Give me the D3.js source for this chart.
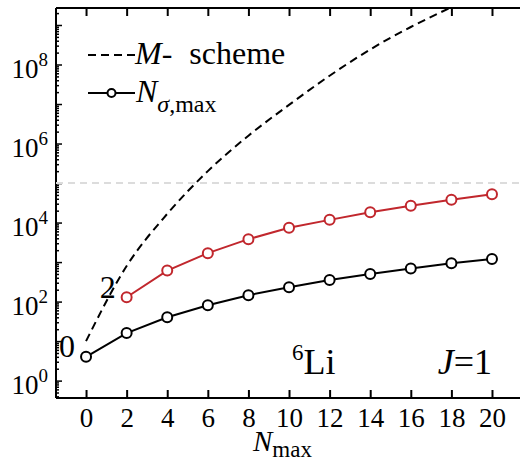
<!DOCTYPE html>
<html>
<head>
<meta charset="utf-8">
<script src="https://cdn.jsdelivr.net/npm/d3@7"></script>
<style>
  body { margin: 0; background: #fff; }
</style>
</head>
<body>
<svg id="chart" width="520" height="463"></svg>
<script>
// values
const nmax = [0, 2, 4, 6, 8, 10, 12, 14, 16, 18, 20];
const mScheme = [10, 794, 1.66e4, 2.0e5, 1.58e6, 9.5e6, 5.2e7, 2.4e8, 8.9e8, 2.8e9, 7.9e9];
const nSigmaBlack = [4, 16, 40, 81, 145, 232, 354, 502, 684, 935, 1200];
const nmaxRed = [2, 4, 6, 8, 10, 12, 14, 16, 18, 20];
const nSigmaRed = [129, 610, 1680, 3800, 7400, 11700, 18300, 26500, 37600, 52000];
const xTicks = [0, 2, 4, 6, 8, 10, 12, 14, 16, 18, 20];
const yLabelExps = [0, 2, 4, 6, 8];
const cutLine = 1e5;

const serif = "'Liberation Serif', 'Times New Roman', 'DejaVu Serif', serif";

let svg = d3.select("#chart")
    .style("font-family", serif);

let margin = {top: 8, right: 0, bottom: 65, left: 56};
let width = 520 - margin.left - margin.right;
let height = 463 - margin.top - margin.bottom;

let g = svg.append("g")
    .attr("transform", `translate(${margin.left}, ${margin.top})`);

let x = d3.scaleLinear()
    .domain([-1.48, 21.38])
    .range([0, width]);

let y = d3.scaleLog()
    .domain([Math.pow(10, -0.44), Math.pow(10, 9.43)])
    .range([height, 0]);

g.append("defs").append("clipPath")
    .attr("id", "clip")
    .append("rect")
    .attr("width", width)
    .attr("height", height);

// y ticks: majors every decade, minors 2..9
let yTicks = [];
for (let e = -1; e <= 9; e++) {
    for (let m = 1; m <= 9; m++) {
        let v = m * Math.pow(10, e);
        if (v >= y.domain()[0] && v <= y.domain()[1]) yTicks.push(v);
    }
}

let yAxis = g.append("g")
    .call(d3.axisLeft(y).tickValues(yTicks).tickSizeInner(-3).tickSizeOuter(0).tickFormat(""));
yAxis.select(".domain").remove();
yAxis.selectAll(".tick line")
    .attr("x2", d => Math.abs(Math.log10(d) - Math.round(Math.log10(d))) < 1e-9 ? 6 : 3)
    .attr("stroke-width", 1.5);

yLabelExps.forEach(function(e) {
    let t = g.append("text")
        .attr("x", -8)
        .attr("y", y(Math.pow(10, e)) + 13)
        .attr("text-anchor", "end")
        .style("font-family", serif)
        .style("font-size", "27px");
    t.append("tspan").text("10");
    t.append("tspan").attr("dy", -12).style("font-size", "19px").text(e);
});

// x ticks, bottom and top, pointing inward
let xAxisBottom = g.append("g")
    .attr("transform", `translate(0, ${height})`)
    .call(d3.axisBottom(x).tickValues(xTicks).tickSizeInner(-8).tickSizeOuter(0).tickPadding(10));
xAxisBottom.attr("font-family", null);
xAxisBottom.select(".domain").remove();
xAxisBottom.selectAll(".tick line").attr("stroke-width", 2);
xAxisBottom.selectAll(".tick text")
    .style("font-family", serif)
    .style("font-size", "27px")
    .attr("dy", "0.71em");

let xAxisTop = g.append("g")
    .call(d3.axisTop(x).tickValues(xTicks).tickSizeInner(-8).tickSizeOuter(0).tickFormat(""));
xAxisTop.select(".domain").remove();
xAxisTop.selectAll(".tick line").attr("stroke-width", 2);

// frame
g.append("line").attr("x1", 0).attr("x2", 0).attr("y1", 0).attr("y2", height)
    .attr("stroke", "#000").attr("stroke-width", 2);
g.append("line").attr("x1", 0).attr("x2", width).attr("y1", height).attr("y2", height)
    .attr("stroke", "#000").attr("stroke-width", 2);
g.append("line").attr("x1", 0).attr("x2", width).attr("y1", 0).attr("y2", 0)
    .attr("stroke", "#000").attr("stroke-width", 2);

// axis title
let xt = g.append("text")
    .attr("x", 197)
    .attr("y", 443)
    .style("font-size", "29px");
xt.append("tspan").style("font-style", "italic").text("N");
xt.append("tspan").attr("dy", 6).style("font-size", "23px").text("max");

let plot = g.append("g").attr("clip-path", "url(#clip)");

// horizontal reference line
plot.append("line")
    .attr("x1", 0).attr("x2", width)
    .attr("y1", y(cutLine)).attr("y2", y(cutLine))
    .attr("stroke", "#dcdcdc")
    .attr("stroke-width", 2)
    .attr("stroke-dasharray", "7,5");

let line = d3.line()
    .x(d => x(d[0]))
    .y(d => y(d[1]));

plot.append("path")
    .datum(d3.zip(nmax, mScheme))
    .attr("d", line.curve(d3.curveMonotoneX))
    .attr("fill", "none")
    .attr("stroke", "#000")
    .attr("stroke-width", 2)
    .attr("stroke-dasharray", "8,5");

line.curve(d3.curveLinear);

let series = [
    {xs: nmax, ys: nSigmaBlack, color: "#000"},
    {xs: nmaxRed, ys: nSigmaRed, color: "#c1272d"}
];

series.forEach(function(s) {
    let pts = d3.zip(s.xs, s.ys);
    plot.append("path")
        .datum(pts)
        .attr("d", line)
        .attr("fill", "none")
        .attr("stroke", s.color)
        .attr("stroke-width", 2);
    plot.selectAll(null)
        .data(pts)
        .join("circle")
        .attr("cx", d => x(d[0]))
        .attr("cy", d => y(d[1]))
        .attr("r", 5)
        .attr("fill", "#fff")
        .attr("stroke", s.color)
        .attr("stroke-width", 2);
});

// point annotations
g.append("text")
    .attr("x", x(0) - 11).attr("y", y(nSigmaBlack[0]))
    .attr("text-anchor", "end")
    .style("font-size", "32px")
    .text("0");
g.append("text")
    .attr("x", x(2) - 11).attr("y", y(nSigmaRed[0]) + 1)
    .attr("text-anchor", "end")
    .style("font-size", "32px")
    .text("2");

// nucleus and J labels
let li = g.append("text")
    .attr("x", 236).attr("y", 366)
    .style("font-size", "36px");
li.append("tspan").attr("dy", -14).style("font-size", "23px").text("6");
li.append("tspan").attr("dy", 14).text("Li");

let jt = g.append("text")
    .attr("x", 436).attr("y", 366)
    .attr("text-anchor", "end")
    .style("font-size", "36px");
jt.append("tspan").style("font-style", "italic").text("J");
jt.append("tspan").text("=1");

// legend
g.append("line")
    .attr("x1", 32).attr("x2", 79).attr("y1", 47).attr("y2", 47)
    .attr("stroke", "#000").attr("stroke-width", 2)
    .attr("stroke-dasharray", "8,5");
let l1 = g.append("text").attr("x", 79).attr("y", 56).style("font-size", "32px");
l1.append("tspan").style("font-style", "italic").text("M");
l1.append("tspan").text("-");
l1.append("tspan").attr("dx", 17).text("scheme");

g.append("line")
    .attr("x1", 32).attr("x2", 79).attr("y1", 85).attr("y2", 85)
    .attr("stroke", "#000").attr("stroke-width", 2);
g.append("circle")
    .attr("cx", 55.5).attr("cy", 85).attr("r", 4)
    .attr("fill", "#fff").attr("stroke", "#000").attr("stroke-width", 2);
let l2 = g.append("text").attr("x", 80).attr("y", 94).style("font-size", "32px");
l2.append("tspan").style("font-style", "italic").text("N");
l2.append("tspan").attr("dy", 10).style("font-size", "24px").style("font-style", "italic").text("σ");
l2.append("tspan").style("font-size", "24px").text(",max");
</script>
</body>
</html>
